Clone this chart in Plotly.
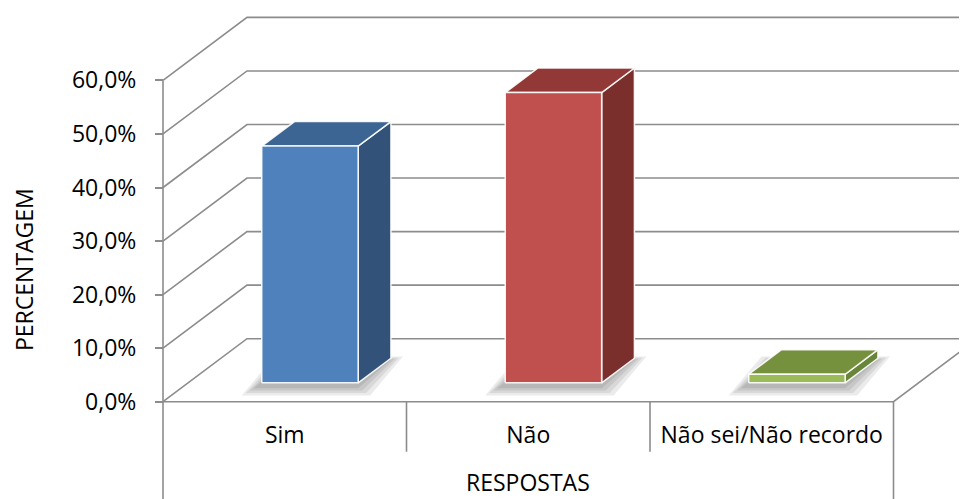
import plotly.graph_objects as go

# ---------------- data ----------------
CATEGORIES = ["Sim", "Não", "Não sei/Não recordo"]
VALUES = [44.2, 54.2, 1.6]
Y_TICKS = [0, 10, 20, 30, 40, 50, 60]
Y_TICK_LABELS = ["0,0%", "10,0%", "20,0%", "30,0%", "40,0%", "50,0%", "60,0%"]
X_TITLE = "RESPOSTAS"
Y_TITLE = "PERCENTAGEM"

# ---------------- styles ----------------
FRONT = ["#4F81BD", "#C0504D", "#9BBB59"]
TOP = ["#3D6593", "#923836", "#76913D"]
SIDE = ["#325279", "#7A2F2D", "#69853A"]
GRID = "#8c8c8c"
FONT = "Open Sans"
FS = 23

# ---------------- geometry (pixel layout of the chart) ----------------
OFF = 8                            # page body margin
W, H = 967 - OFF, 499 - OFF        # figure size
X0_PX, Y0_PX = 163 - OFF, 401.7 - OFF   # front-left corner of the floor
PX_PER_U = 243.5                   # px per category slot
PX_PER_PCT = 5.355                 # px per 1 %
XR = [-X0_PX / PX_PER_U, (W - X0_PX) / PX_PER_U]
YR = [-(H - Y0_PX) / PX_PER_PCT, Y0_PX / PX_PER_PCT]
DX = 84 / PX_PER_U                 # oblique depth offset (x)
DY = 63 / PX_PER_PCT               # oblique depth offset (y)
F1, F2 = 0.30, 0.69                # bar depth span (fraction of floor depth)
HW = 0.198                         # half bar width (category units)
N = len(CATEGORIES)

fig = go.Figure()

def add_lines(xs, ys, color=GRID, width=1.6):
    fig.add_trace(go.Scatter(x=xs, y=ys, mode="lines",
                             line=dict(color=color, width=width),
                             hoverinfo="skip", showlegend=False))

# back wall + side wall gridlines
gx, gy = [], []
for v in Y_TICKS:
    gx += [0, DX, XR[1] + 1, None]
    gy += [v, v + DY, v + DY, None]
add_lines(gx, gy)

# floor front edge, right diagonal, verticals of the category table
bottom = YR[0] - 1
sep_len = 50 / PX_PER_PCT
fx = [0, N, N + 2 * DX, None, 0, 0, None, N, N, None]
fy = [0, 0, 2 * DY, None, Y_TICKS[-1], bottom, None, 0, bottom, None]
for i in range(1, N):
    fx += [i, i, None]
    fy += [0, -sep_len, None]
add_lines(fx, fy)

# soft shadows on the floor
for i, v in enumerate(VALUES):
    c = i + 0.5
    for k in (16, 12, 8, 4):
        ex = k / PX_PER_U
        ey = k / PX_PER_PCT
        sx = -4 / PX_PER_U
        sy = -3 / PX_PER_PCT
        xs = [c - HW + F1 * DX - ex + sx, c + HW + F1 * DX + ex + sx,
              c + HW + F2 * DX + ex + sx, c - HW + F2 * DX - ex + sx]
        ys = [F1 * DY - ey * 0.6 + sy, F1 * DY - ey * 0.6 + sy,
              F2 * DY + ey * 0.3 + sy, F2 * DY + ey * 0.3 + sy]
        fig.add_trace(go.Scatter(x=xs + [xs[0]], y=ys + [ys[0]], mode="lines",
                                 fill="toself", fillcolor="rgba(0,0,0,0.08)",
                                 line=dict(width=0, color="rgba(0,0,0,0)"),
                                 hoverinfo="skip", showlegend=False))

# 3-D bars
for i, v in enumerate(VALUES):
    c = i + 0.5
    xl1, xr1 = c - HW + F1 * DX, c + HW + F1 * DX
    xl2, xr2 = c - HW + F2 * DX, c + HW + F2 * DX
    yb1, yb2 = F1 * DY, F2 * DY
    yt1, yt2 = v + F1 * DY, v + F2 * DY
    faces = [
        ([xr1, xr2, xr2, xr1], [yb1, yb2, yt2, yt1], SIDE[i]),
        ([xl1, xr1, xr2, xl2], [yt1, yt1, yt2, yt2], TOP[i]),
        ([xl1, xr1, xr1, xl1], [yb1, yb1, yt1, yt1], FRONT[i]),
    ]
    for xs, ys, col in faces:
        fig.add_trace(go.Scatter(x=xs + [xs[0]], y=ys + [ys[0]], mode="lines",
                                 fill="toself", fillcolor=col,
                                 line=dict(color="rgba(255,255,255,0.9)", width=1.5),
                                 name=CATEGORIES[i], hoverinfo="skip",
                                 showlegend=False))

# titles
fig.add_annotation(text=X_TITLE, x=N / 2, xref="x", y=0, yref="paper",
                   showarrow=False, xanchor="center", yanchor="bottom", borderpad=0,
                   font=dict(family=FONT, size=FS, color="#000"))
fig.add_annotation(text=Y_TITLE, x=(24 - OFF) / W, xref="paper", y=1 - (270 - OFF) / H,
                   yref="paper", showarrow=False, textangle=-90,
                   xanchor="center", yanchor="middle", borderpad=0,
                   font=dict(family=FONT, size=FS, color="#000"))

fig.update_layout(
    width=W, height=H,
    margin=dict(l=0, r=0, t=0, b=0),
    paper_bgcolor="white", plot_bgcolor="white",
    showlegend=False,
    font=dict(family=FONT, size=FS, color="#000"),
    xaxis=dict(range=XR, anchor="free", position=(H - Y0_PX) / H,
               tickvals=[i + 0.5 for i in range(N)], ticktext=CATEGORIES,
               ticks="", showgrid=False, zeroline=False, showline=False,
               ticklabelstandoff=17,
               tickfont=dict(family=FONT, size=FS, color="#000"), fixedrange=True),
    yaxis=dict(range=YR, anchor="free", position=X0_PX / W,
               tickvals=Y_TICKS, ticktext=Y_TICK_LABELS,
               ticks="outside", ticklen=8, tickwidth=1.6, tickcolor=GRID,
               showgrid=False, zeroline=False, showline=False,
               ticklabelstandoff=14,
               tickfont=dict(family=FONT, size=FS, color="#000"), fixedrange=True),
)

fig.write_html("out.html")
